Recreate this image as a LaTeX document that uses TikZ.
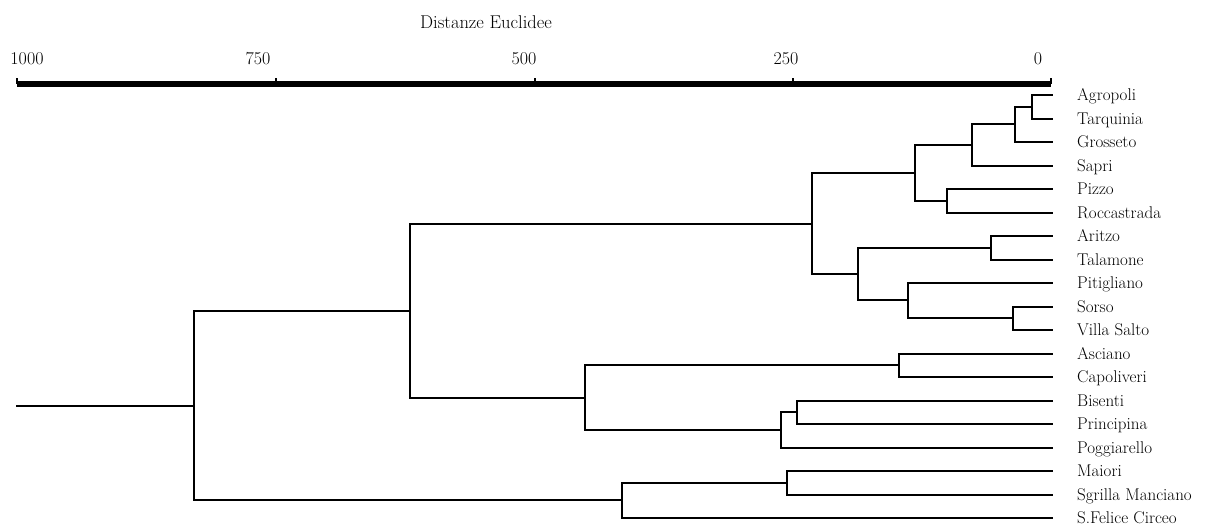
\documentclass[tikz,border=0pt]{standalone}
\usepackage{fontspec}
\setmainfont{Latin Modern Roman}
\begin{document}
\begin{tikzpicture}[x=1pt,y=-1pt,
  edge/.style={line width=2pt,line cap=rect},
  axisline/.style={line width=6pt},
  tickmark/.style={line width=1.3pt},
  leaflabel/.style={anchor=base west,inner sep=0pt,font=\fontsize{17}{20}\selectfont},
  ticklabel/.style={anchor=base,inner sep=0pt,font=\fontsize{18}{20}\selectfont},
  titlelabel/.style={anchor=base,inner sep=0pt,font=\fontsize{18.5}{20}\selectfont}]
\useasboundingbox (0,0) rectangle (1205,529);
% axis
\coordinate (a0) at (17,84);
\coordinate (a1) at (1051,84);
\draw[axisline] (a0) -- (a1);
\foreach \tx/\lx/\lab [count=\k] in {17/27/1000,276/258/750,535/524/500,793/786/250,1051/1038/0}{
  \coordinate (tk\k) at (\tx,84);
  \draw[tickmark] (tk\k) -- ++(0,-6);
  \node[ticklabel] (tl\k) at (\lx,65) {\lab};
}
\node[titlelabel] (title) at (486,28.5) {Distanze Euclidee};
% leaves
\foreach \nm/\yy [count=\i from 0] in {Agropoli/95,Tarquinia/119,Grosseto/142,Sapri/166,Pizzo/189,Roccastrada/213,Aritzo/236,Talamone/260,Pitigliano/283,Sorso/307,Villa Salto/330,Asciano/354,Capoliveri/377,Bisenti/401,Principina/424,Poggiarello/448,Maiori/471,Sgrilla Manciano/495,S.Felice Circeo/518}{
  \coordinate (l\i) at (1052,\yy);
  \node[leaflabel] (L\i) at (1077,\yy+5.5) {\nm};
}
% internal merges
\coordinate (n1) at (1032,107);
\coordinate (n2) at (1015,124);
\coordinate (n3) at (972,145);
\coordinate (n4) at (947,201);
\coordinate (n5) at (915,173);
\coordinate (n6) at (991,248);
\coordinate (n7) at (1013,318);
\coordinate (n8) at (908,300);
\coordinate (n9) at (858,274);
\coordinate (n10) at (812,224);
\coordinate (n11) at (899,365);
\coordinate (n12) at (797,412);
\coordinate (n13) at (781,430);
\coordinate (n14) at (585,398);
\coordinate (n15) at (410,311);
\coordinate (n16) at (787,483);
\coordinate (n17) at (622,500);
\coordinate (root) at (194,406);
\coordinate (rootend) at (17,406);
\foreach \c/\p in {l0/n1,l1/n1,n1/n2,l2/n2,n2/n3,l3/n3,l4/n4,l5/n4,n3/n5,n4/n5,
  l6/n6,l7/n6,l9/n7,l10/n7,l8/n8,n7/n8,n6/n9,n8/n9,n5/n10,n9/n10,
  l11/n11,l12/n11,l13/n12,l14/n12,n12/n13,l15/n13,n11/n14,n13/n14,n10/n15,n14/n15,
  l16/n16,l17/n16,n16/n17,l18/n17,n15/root,n17/root}{
  \draw[edge] (\c) -| (\p);
}
\draw[edge] (root) -- (rootend);
\end{tikzpicture}
\end{document}
